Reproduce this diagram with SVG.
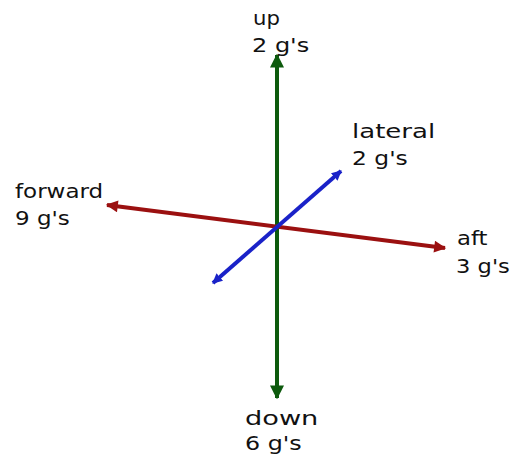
<svg xmlns="http://www.w3.org/2000/svg" width="515" height="466" viewBox="0 0 515 466">
<style>
text{font-family:"DejaVu Sans","Liberation Sans",sans-serif;font-size:20px;fill:#111}
.ax{stroke-width:4;fill:none;stroke-linecap:butt}
</style>
<defs>
<marker id="mg" viewBox="0 0 10 10" refX="9" refY="5" markerWidth="3.5" markerHeight="5" orient="auto-start-reverse" markerUnits="strokeWidth"><path d="M0,0L10,5L0,10z" fill="#0d5a0d"/></marker>
<marker id="mr" viewBox="0 0 10 10" refX="9" refY="5" markerWidth="4" markerHeight="3" orient="auto-start-reverse" markerUnits="strokeWidth"><path d="M0,0L10,5L0,10z" fill="#9b1010"/></marker>
<marker id="mb" viewBox="0 0 10 10" refX="9" refY="5" markerWidth="2.5" markerHeight="2.5" orient="auto-start-reverse" markerUnits="strokeWidth"><path d="M0,0L10,5L0,10z" fill="#1a22c8"/></marker>
</defs>
<g id="connectors">
<line class="ax" x1="277" y1="398" x2="277" y2="55" stroke="#0d5a0d" marker-start="url(#mg)" marker-end="url(#mg)"/>
<line class="ax" x1="107" y1="205" x2="445" y2="248" stroke="#9b1010" marker-start="url(#mr)" marker-end="url(#mr)"/>
<line class="ax" x1="213" y1="283" x2="341" y2="171" stroke="#1a22c8" marker-start="url(#mb)" marker-end="url(#mb)"/>
</g>
<g id="up"><text transform="translate(253,25) scale(1.06,1)">up</text><text transform="translate(252,52) scale(1.2,1)">2 g's</text></g>
<g id="lateral"><text transform="translate(352,138) scale(1.3,1)">lateral</text><text transform="translate(352,165) scale(1.17,1)">2 g's</text></g>
<g id="forward"><text transform="translate(15,198) scale(1.15,1)">forward</text><text transform="translate(15,225) scale(1.15,1)">9 g's</text></g>
<g id="aft"><text transform="translate(457,245) scale(1.14,1)">aft</text><text transform="translate(456,273) scale(1.13,1)">3 g's</text></g>
<g id="down"><text transform="translate(245,425) scale(1.36,1)">down</text><text transform="translate(245,450) scale(1.19,1)">6 g's</text></g>
</svg>
